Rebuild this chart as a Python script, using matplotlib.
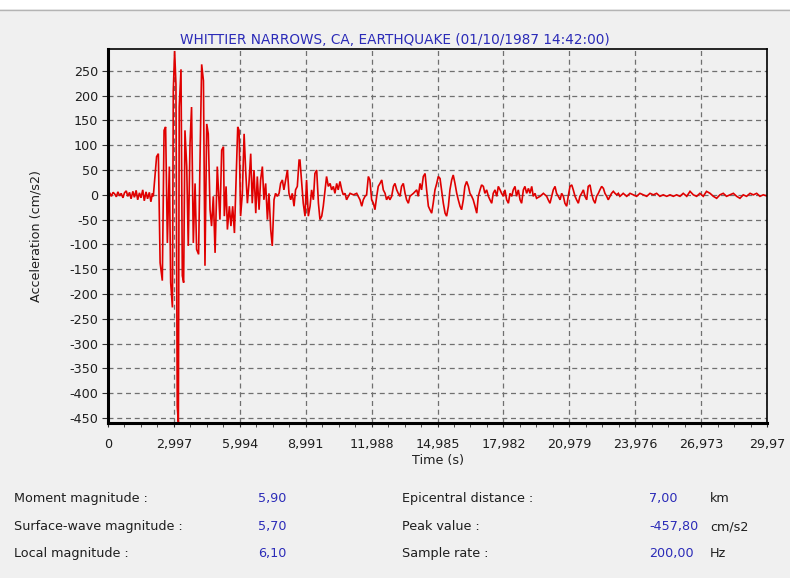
import numpy as np
import matplotlib
matplotlib.use("Agg")
import matplotlib.pyplot as plt
from matplotlib.ticker import FixedLocator, MultipleLocator
from matplotlib.lines import Line2D
from matplotlib.patches import Rectangle

# Accelerogram, split in pieces (time in s, accel in cm/s2)
pre_t = [0.00, 0.08, 0.15, 0.23, 0.30, 0.38, 0.45, 0.53, 0.60, 0.68, 0.75, 0.83, 0.90, 0.98,
         1.05, 1.13, 1.20, 1.28, 1.35, 1.43, 1.50, 1.58, 1.65, 1.73, 1.80, 1.88, 1.95, 2.02]
pre_a = [0, 4, -3, 5, 2, -4, 6, -2, 3, -6, 4, 8, -3, 5,
         -8, 7, -5, 9, -10, 4, -6, 10, -12, 6, -8, 5, -14, 3]

strong_t = [2.06, 2.21, 2.29, 2.37, 2.47, 2.55, 2.62, 2.70, 2.79, 2.85, 2.93, 2.97, 3.03, 3.09,
            3.15, 3.20, 3.24, 3.32, 3.38, 3.44, 3.50, 3.58, 3.65, 3.73, 3.80, 3.88, 3.96, 4.03,
            4.12, 4.18, 4.26, 4.34, 4.41, 4.49, 4.56, 4.64, 4.71, 4.79, 4.87, 4.97]
strong_a = [-3, 77, 83, -137, -173, 130, 137, -97, 57, -177, -227, 210, 290, 223,
            -427, -457.8, 177, 253, -163, -177, 130, 57, -103, 103, 177, -97, 23, -110,
            -120, 57, 263, 230, -143, 143, 123, -30, -63, -3, -117, 57]

late_t = [5.09, 5.17, 5.25, 5.29, 5.37, 5.43, 5.52, 5.59, 5.67, 5.75, 5.82, 5.90, 5.96, 6.03,
          6.11, 6.19, 6.26, 6.34, 6.41, 6.49, 6.56, 6.64, 6.72, 6.79, 6.87, 6.94, 7.02, 7.09,
          7.17, 7.25, 7.32, 7.40, 7.47, 7.55, 7.62, 7.70, 7.78, 7.85, 7.93, 8.00, 8.08, 8.16,
          8.23, 8.31, 8.38, 8.46, 8.53, 8.61, 8.69]
late_a = [-50, 90, 97, -43, 17, -70, -23, -63, -23, -77, 23, 137, 130, -43,
          3, 123, 50, -17, 23, 83, -17, 50, -37, 37, -30, 30, 57, -10,
          23, -50, 3, -70, -103, -10, 3, -3, 3, 23, 30, 10, 30, 50,
          3, -10, 3, -23, 10, 17, 70]

coda_t = [8.73, 8.88, 8.96, 9.03, 9.11, 9.19, 9.26, 9.34, 9.41, 9.49, 9.57, 9.64, 9.72, 9.79,
          9.87, 9.94, 10.02, 10.10, 10.17, 10.25, 10.32, 10.40, 10.47, 10.55, 10.63, 10.70,
          10.78, 10.85, 10.93, 11.01, 11.16, 11.31, 11.38, 11.46, 11.54, 11.61, 11.69, 11.76,
          11.84, 11.91, 11.99, 12.07, 12.14, 12.22, 12.29, 12.37, 12.45, 12.52, 12.60, 12.67,
          12.75, 12.82, 12.90, 12.98, 13.05, 13.13, 13.20, 13.28, 13.35, 13.43, 13.51, 13.58,
          13.66, 13.73, 13.89, 14.04, 14.11,
          14.19, 14.26, 14.34, 14.42, 14.49, 14.57, 14.64, 14.72, 14.79, 14.87, 14.95, 15.02,
          15.10, 15.17, 15.25, 15.33, 15.40, 15.48, 15.55, 15.63, 15.70, 15.78, 15.86, 15.93,
          16.01, 16.08, 16.16, 16.23, 16.31, 16.39, 16.46, 16.54, 16.61, 16.69, 16.77, 16.84]
coda_a = [70, -17, -43, 30, -43, -23, 10, -10, 43, 50, -17, -50, -43, -23,
          10, 37, 17, 23, 10, 17, 3, 23, 10, 27, 10, 0,
          3, -10, -3, 3, 0, 3, -3, -10, -23, -10, -3, 0,
          37, 30, -10, -17, -30, -3, 17, 23, 30, 10, 3, -10,
          -3, -10, -3, 17, 23, 10, 3, -3, 17, 23, 3, -10,
          -17, -3, 3, 10, -3,
          23, 10, 37, 43, 10, -23, -30, -37, -17, 10, 23, 37,
          33, 10, -17, -37, -43, -23, 10, 30, 40, 23, 3, -10,
          -23, -30, -10, 17, 27, 17, 3, -3, -10, -23, -37, -3]

tail_t = [16.92, 16.99, 17.07, 17.14, 17.22, 17.30, 17.37, 17.45, 17.52, 17.60, 17.68, 17.75,
          17.83, 17.90, 17.98, 18.05, 18.13, 18.21, 18.28, 18.36, 18.43, 18.51, 18.58, 18.66,
          18.74, 18.81, 18.89, 18.96, 19.04, 19.12, 19.19, 19.27, 19.34, 19.42, 19.49, 19.65,
          19.80, 19.95, 20.02, 20.10, 20.18, 20.25, 20.33, 20.40, 20.48, 20.56, 20.63, 20.71,
          20.78, 20.86, 20.93, 21.01, 21.09, 21.16, 21.24, 21.31, 21.39, 21.46, 21.54, 21.62,
          21.69, 21.77, 21.84, 21.92, 21.99, 22.07, 22.15, 22.22, 22.30, 22.37, 22.45, 22.53,
          22.60, 22.68, 22.75, 22.83, 22.90, 22.98, 23.06, 23.13, 23.21, 23.28, 23.36, 23.43,
          23.59, 23.74, 23.89, 24.04, 24.19, 24.34, 24.50, 24.65, 24.80, 24.95, 25.10, 25.25,
          25.41, 25.56, 25.71, 25.86, 26.01, 26.16, 26.32, 26.47, 26.62, 26.77, 26.92, 27.07,
          27.22, 27.38, 27.53, 27.68, 27.83, 27.98, 28.13, 28.29, 28.44, 28.59, 28.74, 28.89,
          29.04, 29.20, 29.35, 29.50, 29.65, 29.80, 29.95]
tail_a = [10, 20, 17, 3, 10, -3, -10, -17, 3, 10, -3, 17,
          10, 3, -3, 10, -10, -17, 3, -3, 10, 17, -3, 10,
          -10, -17, 10, 17, 3, 13, 3, 17, -3, 3, -7, -3,
          3, -3, -10, -17, -3, 10, 17, 3, -3, -10, 3, -3,
          -17, -23, -3, 17, 20, 10, -3, -10, -17, -3, 3, 10,
          -3, -10, 17, 20, 3, -10, -17, -3, 3, 10, 17, 13,
          3, -3, -10, -3, 3, 7, 3, 0, 3, -3, 0, 3,
          -3, 3, 0, -3, 3, 0, -3, 3, 0, 3, -3, 0,
          -3, 0, -3, 0, -3, 3, -3, 7, 0, -3, 3, -3,
          7, 3, -3, -7, 0, 3, -3, 0, 3, -3, -7, 0,
          -3, 3, 0, 3, -3, 0, -2]

title = "WHITTIER NARROWS, CA, EARTHQUAKE (01/10/1987 14:42:00)"
x_ticks = [0, 2.997, 5.994, 8.991, 11.988, 14.985, 17.982, 20.979, 23.976, 26.973, 29.97]
x_labels = ["0", "2,997", "5,994", "8,991", "11,988", "14,985", "17,982", "20,979",
            "23,976", "26,973", "29,97"]
y_ticks = list(range(-450, 251, 50))

info_left = [("Moment magnitude :", "5,90"),
             ("Surface-wave magnitude :", "5,70"),
             ("Local magnitude :", "6,10")]
info_right = [("Epicentral distance :", "7,00", "km"),
              ("Peak value :", "-457,80", "cm/s2"),
              ("Sample rate :", "200,00", "Hz")]

t = np.concatenate([pre_t, strong_t, late_t, coda_t, tail_t])
a = np.concatenate([pre_a, strong_a, late_a, coda_a, tail_a])

W, H = 790, 578
bg = "#f0f0f0"
txt = "#1e1e1e"
blue = "#2b2bb8"
fs = 9.2
plt.rcParams['font.family'] = ['DejaVu Sans']
plt.rcParams['axes.unicode_minus'] = False

fig = plt.figure(figsize=(W / 100, H / 100), dpi=100, facecolor=bg)
# white strip at top of the window
fig.patches.append(Rectangle((0, 1 - 9 / H), 1, 9 / H, transform=fig.transFigure,
                             facecolor="white", edgecolor="none"))
fig.lines.append(Line2D([0, 1], [1 - 9.5 / H, 1 - 9.5 / H], transform=fig.transFigure,
                        color="#b4b4b4", lw=1))

ax = fig.add_axes([108 / W, 1 - 423 / H, (767 - 108) / W, (423 - 49) / H])
ax.set_facecolor(bg)
ax.plot(t, a, color="#e00000", lw=1.2, solid_joinstyle="miter")

ax.set_xlim(0, 29.97)
ax.set_ylim(-460, 294)
ax.xaxis.set_major_locator(FixedLocator(x_ticks))
ax.set_xticklabels(x_labels)
ax.xaxis.set_minor_locator(MultipleLocator(2.997 / 4))
ax.set_yticks(y_ticks)
ax.tick_params(axis="both", which="both", direction="out", color="#303030",
               labelsize=fs, labelcolor=txt)
ax.tick_params(axis="x", which="both", length=3, pad=8)
ax.tick_params(axis="y", length=4, pad=3)

ax.grid(True, which="major", color="#707070", ls=(0, (4, 3)), lw=0.9)
for side in ["left", "bottom"]:
    ax.spines[side].set_linewidth(2.2)
for side in ["top", "right"]:
    ax.spines[side].set_linewidth(1.2)
for s in ax.spines.values():
    s.set_color("black")

ax.set_xlabel("Time (s)", fontsize=fs, color=txt, labelpad=2)
ax.set_ylabel("Acceleration (cm/s2)", fontsize=fs, color=txt, labelpad=19)
fig.text(395 / W, 1 - 40 / H, title, ha="center", va="center", fontsize=9.8, color=blue)

rows_y = [502, 530, 557]
for (lab, val), yy in zip(info_left, rows_y):
    fig.text(14 / W, 1 - yy / H, lab, ha="left", va="baseline", fontsize=fs, color=txt)
    fig.text(258 / W, 1 - yy / H, val, ha="left", va="baseline", fontsize=fs, color=blue)
for (lab, val, unit), yy in zip(info_right, rows_y):
    fig.text(402 / W, 1 - yy / H, lab, ha="left", va="baseline", fontsize=fs, color=txt)
    fig.text(649 / W, 1 - yy / H, val, ha="left", va="baseline", fontsize=fs, color=blue)
    fig.text(710 / W, 1 - yy / H, unit, ha="left", va="baseline", fontsize=fs, color=txt)

fig.savefig("out.png", dpi=100, facecolor=bg)
